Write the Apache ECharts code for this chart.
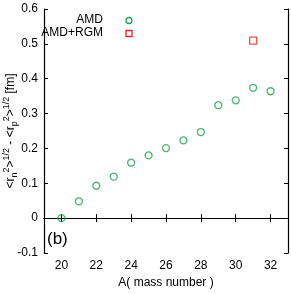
<!DOCTYPE html>
<html><head><meta charset="utf-8">
<script src="https://cdn.jsdelivr.net/npm/echarts@6/dist/echarts.min.js"></script>
<style>html,body{margin:0;padding:0;background:#fff}#c{width:291px;height:294px}</style>
</head><body><div id="c"></div>
<script>
const massNumbers = [20,21,22,23,24,25,26,27,28,29,30,31,32];
const amdValues = [0.0,0.048,0.093,0.119,0.159,0.18,0.201,0.223,0.247,0.324,0.338,0.374,0.364];
const rgmMass = [31];
const rgmValues = [0.509];
const xTicks = [20,22,24,26,28,30,32];
const legendNames = ['AMD','AMD+RGM'];

const font = 'Liberation Sans';
const green = '#1fa352', red = '#ee2222';
const chart = echarts.init(document.getElementById('c'), null, {renderer:'canvas'});
const axisLine = {show:true, lineStyle:{color:'#000', width:1.2}};
const option = {
  animation:false,
  textStyle:{fontFamily:font},
  grid:{left:44, top:9, right:3, bottom:41},
  xAxis:[{
    type:'value', min:19, max:33,
    axisLine:axisLine,
    axisTick:{show:true, inside:true, length:4, customValues:xTicks, lineStyle:{color:'#000'}},
    axisLabel:{customValues:xTicks, color:'#000', fontSize:12, fontFamily:font, margin:7},
    splitLine:{show:false},
    name:'A( mass number )', nameLocation:'middle', nameGap:24,
    nameTextStyle:{color:'#000', fontSize:12, fontFamily:font}
  },{
    type:'value', min:19, max:33, position:'top',
    axisLine:axisLine,
    axisTick:{show:true, inside:true, length:4, customValues:xTicks, lineStyle:{color:'#000'}},
    axisLabel:{show:false}, splitLine:{show:false}
  }],
  yAxis:[{
    type:'value', min:-0.1, max:0.6, interval:0.1,
    axisLine:axisLine,
    axisTick:{show:true, inside:true, length:4, lineStyle:{color:'#000'}},
    axisLabel:{color:'#000', fontSize:12, fontFamily:font, margin:6,
      formatter:v=>{const r=Math.round(v*10)/10; return r===0?'0':r.toFixed(1);}},
    splitLine:{show:false}
  },{
    type:'value', min:-0.1, max:0.6, interval:0.1, position:'right',
    axisLine:axisLine,
    axisTick:{show:true, inside:true, length:4, lineStyle:{color:'#000'}},
    axisLabel:{show:false}, splitLine:{show:false}
  }],
  legend:{show:false},
  graphic:[{
    type:'text', x:103, y:20,
    style:{text:legendNames[0], fill:'#000', font:'12px '+font, align:'right', verticalAlign:'middle'}
  },{
    type:'text', x:103, y:33,
    style:{text:legendNames[1], fill:'#000', font:'12px '+font, align:'right', verticalAlign:'middle'}
  },{
    type:'circle', shape:{cx:129, cy:20.5, r:3}, style:{fill:'none', stroke:green, lineWidth:1.3}
  },{
    type:'rect', shape:{x:126, y:30.5, width:6, height:6}, style:{fill:'none', stroke:red, lineWidth:1.3}
  },{
    type:'text', left:47, top:231,
    style:{text:'(b)', fill:'#000', font:'17px '+font}
  },{
    type:'text', x:11, y:131, rotation:Math.PI/2,
    style:{
      text:'<r{sub|n}{sup|2}>{sup|1/2} - <r{sub|p}{sup|2}>{sup|1/2} [fm]',
      fill:'#000', font:'12px '+font, align:'center', verticalAlign:'middle',
      rich:{
        sub:{fontSize:9, fontFamily:font, padding:[7,0,0,0]},
        sup:{fontSize:9, fontFamily:font, padding:[0,0,8,0]}
      }
    }
  }],
  series:[{
    name:'AMD', type:'scatter', symbol:'circle', symbolSize:7,
    itemStyle:{color:'transparent', borderColor:green, borderWidth:1.3},
    data:massNumbers.map((m,i)=>[m, amdValues[i]])
  },{
    name:'AMD+RGM', type:'scatter', symbol:'rect', symbolSize:7,
    itemStyle:{color:'transparent', borderColor:red, borderWidth:1.3},
    data:rgmMass.map((m,i)=>[m, rgmValues[i]])
  }]
};
chart.setOption(option);
</script></body></html>
